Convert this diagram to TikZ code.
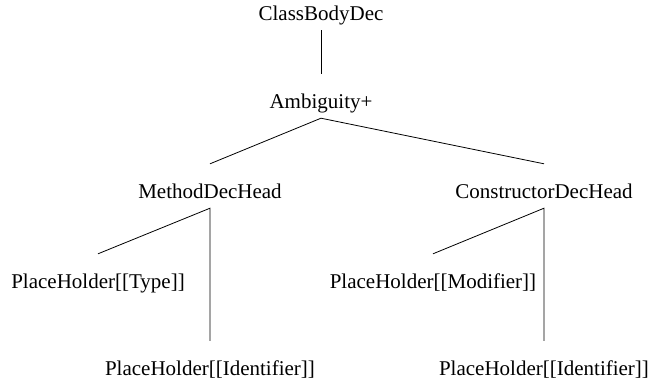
\documentclass[tikz,border=0pt]{standalone}
\usepackage{fontspec}
\setmainfont{Liberation Serif}
\begin{document}
\begin{tikzpicture}[x=1pt,y=-1pt,
	term/.style={font=\fontsize{21pt}{25pt}\selectfont,inner sep=0pt,text height=34pt,text depth=10pt,anchor=base},
	branch/.style={line width=0.8pt}]
			\useasboundingbox (0,0) rectangle (662,383);
			\node[term] (cbd) at (321,20) {ClassBodyDec};
			\node[term] (amb) at (321,108) {Ambiguity+};
			\node[term] (mdh) at (210,198) {MethodDecHead};
			\node[term] (cdh) at (544,198) {ConstructorDecHead};
			\node[term] (phtype) at (98,288) {PlaceHolder[[Type]]};
			\node[term] (phid1) at (210,375) {PlaceHolder[[Identifier]]};
			\node[term] (phmod) at (433,288) {PlaceHolder[[Modifier]]};
			\node[term] (phid2) at (544,375) {PlaceHolder[[Identifier]]};
			\draw[branch] (cbd.south) -- (amb.north);
			\draw[branch] (mdh.north) -- (amb.south) -- (cdh.north);
			\draw[branch] (phtype.north) -- (mdh.south) -- (phid1.north);
			\draw[branch] (phmod.north) -- (cdh.south) -- (phid2.north);
		\end{tikzpicture}
\end{document}
